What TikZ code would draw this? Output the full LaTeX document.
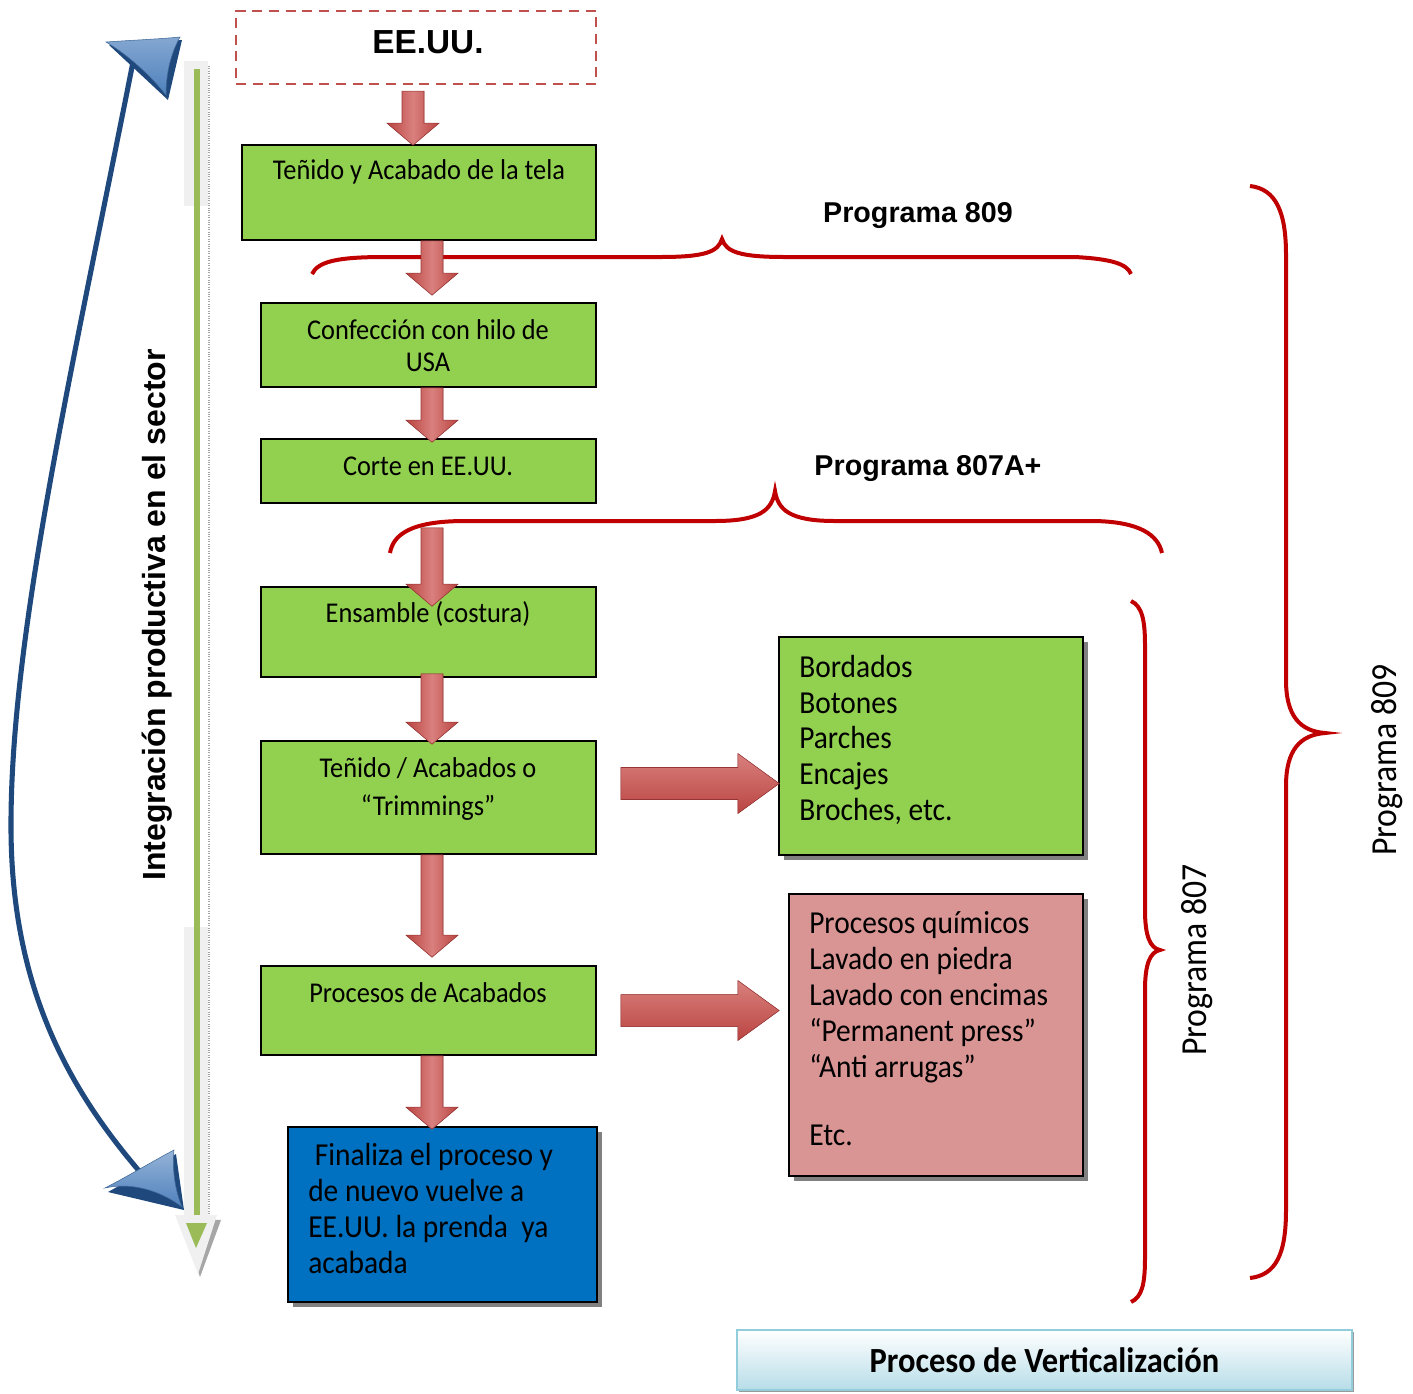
\documentclass[tikz,border=0pt]{standalone}
\usepackage{fontspec}
\setmainfont{Liberation Sans}
\newfontfamily\nar[FakeStretch=0.92]{Carlito}
\usetikzlibrary{calc,fit,shadows}
\definecolor{gfill}{HTML}{92D050}
\definecolor{bfill}{HTML}{0070C0}
\definecolor{pfill}{HTML}{D99594}
\definecolor{rdark}{HTML}{BA4441}
\definecolor{rlight}{HTML}{D9807E}
\definecolor{rshadowc}{HTML}{7F2E2C}
\definecolor{bracec}{HTML}{C00000}
\definecolor{dashc}{HTML}{C0504D}
\definecolor{navy}{HTML}{1F497D}
\definecolor{bhead}{HTML}{4F81BD}
\definecolor{lgreen}{HTML}{9BBB59}
\definecolor{lblue}{HTML}{B7DDE8}
\definecolor{lbord}{HTML}{92CDDC}
\newcommand\dnshape{({\x1-8.25pt},\y1) -- ({\x1+8.25pt},\y1) -- ({\x1+8.25pt},{\y2+16.5pt}) -- ({\x1+19.5pt},{\y2+16.5pt}) -- (\x1,\y2) -- ({\x1-19.5pt},{\y2+16.5pt}) -- ({\x1-8.25pt},{\y2+16.5pt}) -- cycle}
\newcommand\rtshape{(\x1,{\y1+12pt}) -- ({\x2-31pt},{\y1+12pt}) -- ({\x2-31pt},{\y1+22.5pt}) -- (\x2,\y1) -- ({\x2-31pt},{\y1-22.5pt}) -- ({\x2-31pt},{\y1-12pt}) -- (\x1,{\y1-12pt}) -- cycle}
\newcommand\DnArrow[2]{%
  \path #1 coordinate (da) #2 coordinate (db);
  \begin{scope}[shift={(2,2)}]
    \fill[rshadowc] let \p1=(da), \p2=(db) in \dnshape;
  \end{scope}
  \shadedraw[arrshade] let \p1=(da), \p2=(db) in \dnshape;
}
\newcommand\RtArrow[2]{%
  \path #1 coordinate (ra) #2 coordinate (rb);
  \begin{scope}[shift={(3,3)}]
    \fill[rshadowc] let \p1=(ra), \p2=(rb) in \rtshape;
  \end{scope}
  \shadedraw[rtshade] let \p1=(ra), \p2=(rb) in \rtshape;
}
\begin{document}
\begin{tikzpicture}[x=0.75pt,y=-0.75pt,
  gbox/.style={draw=black, line width=1.2pt, fill=gfill, inner sep=0pt},
  shadowed/.style={drop shadow={shadow xshift=3.5pt, shadow yshift=-3.5pt, fill=black!50, opacity=1}},
  btxt/.style={font=\nar\fontsize{21.5}{24}\selectfont, inner sep=0pt, align=center},
  rtxt/.style={font=\nar\fontsize{24}{27}\selectfont, inner sep=0pt, align=left},
  lbl/.style={font=\bfseries\fontsize{21.5}{24}\selectfont, inner sep=0pt},
  vlbl/.style={font=\nar\fontsize{27.5}{30}\selectfont, inner sep=0pt, rotate=90},
  bracestyle/.style={draw=bracec, line width=3pt},
  arrshade/.style={left color=rdark, right color=rdark, middle color=rlight, draw=rdark!80!black, line width=0.4pt},
  rtshade/.style={top color=rlight, bottom color=rdark, draw=rdark!80!black, line width=0.4pt}
]
\useasboundingbox (0,0) rectangle (1413,1393);

% ---------- left side: green vertical arrow ----------
\fill[black!6] (184,61) rectangle (208,206);
\fill[black!6] (184,927) rectangle (208,1216);
\draw[black!35, densely dotted, line width=0.8pt] (209,66) -- (209,1225);
\fill[lgreen] (194,69) rectangle (200,1224);
\fill[black!35] (180,1218) -- (221,1220) -- (200,1277) -- cycle;
\fill[black!6] (175,1215) -- (217,1215) -- (198,1274) -- cycle;
\fill[lgreen] (186,1223) -- (207,1223) -- (196,1248) -- cycle;

% ---------- blue curved double arrow ----------
\draw[navy, line width=3.8pt] (133,62) .. controls (70,380) and (10,640) .. (11,830) .. controls (12,990) and (70,1090) .. (140,1172);
\fill[navy] (109,45) -- (182,40) -- (168,100) -- cycle;
\shade[top color=bhead!70!white, bottom color=bhead, draw=bhead!80!black, line width=0.4pt] (106,42) .. controls (135,40) and (160,39) .. (180,37) .. controls (170,55) and (166,75) .. (166,95) .. controls (150,75) and (128,55) .. cycle;
\fill[navy] (108,1192) -- (176,1154) -- (184,1210) -- cycle;
\shade[top color=bhead!60!white, bottom color=bhead, draw=bhead!80!black, line width=0.4pt] (105,1188) .. controls (130,1175) and (155,1160) .. (174,1150) .. controls (172,1170) and (175,1190) .. (182,1207) .. controls (160,1190) and (130,1182) .. cycle;

\node[font=\bfseries\fontsize{24}{27}\selectfont, rotate=90, inner sep=0pt] (integ) at (157,615) {Integración productiva en el sector};

% ---------- main column boxes ----------
\node[draw=dashc, line width=1.6pt, dash pattern=on 7.5pt off 5pt, fit={(236,11) (596,84)}, inner sep=0pt] (ee) {};
\node[font=\bfseries\fontsize{25}{28}\selectfont, inner sep=0pt] (eet) at (428,42) {EE.UU.};

\node[gbox, fit={(242,145) (596,240)}] (b1) {};
\node[gbox, fit={(261,303) (596,387)}] (b2) {};
\node[gbox, fit={(261,439) (596,503)}] (b3) {};
\node[gbox, fit={(261,587) (596,677)}] (b4) {};
\node[gbox, fit={(261,741) (596,854)}] (b5) {};
\node[gbox, fit={(261,966) (596,1055)}] (b6) {};
\node[gbox, fill=bfill, shadowed, fit={(288,1127) (597,1302)}] (b7) {};

\node[btxt, anchor=base] (t1) at (419,179) {Teñido y Acabado de la tela};
\node[btxt, anchor=base] (t2a) at (428,339) {Confección con hilo de};
\node[btxt, anchor=base] (t2b) at (428,371) {USA};
\node[btxt, anchor=base] (t3) at (428,475) {Corte en EE.UU.};
\node[btxt, anchor=base] (t4) at (428,622) {Ensamble (costura)};
\node[btxt, anchor=base] (t5a) at (428,777) {Teñido / Acabados o};
\node[btxt, anchor=base] (t5b) at (428,815) {“Trimmings”};
\node[btxt, anchor=base] (t6) at (428,1002) {Procesos de Acabados};
\node[rtxt, anchor=base west] (t7a) at (308,1165) {\ Finaliza el proceso y};
\node[rtxt, anchor=base west] (t7b) at (308,1201) {de nuevo vuelve a};
\node[rtxt, anchor=base west] (t7c) at (308,1237) {EE.UU. la prenda \ ya};
\node[rtxt, anchor=base west] (t7d) at (308,1273) {acabada};

% ---------- right boxes ----------
\node[gbox, shadowed, fit={(779,637) (1083,855)}] (r1) {};
\node[gbox, fill=pfill, shadowed, fit={(789,894) (1083,1176)}] (r2) {};
\node[rtxt, anchor=base west] (r1a) at (799,677) {Bordados};
\node[rtxt, anchor=base west] (r1b) at (799,713) {Botones};
\node[rtxt, anchor=base west] (r1c) at (799,748) {Parches};
\node[rtxt, anchor=base west] (r1d) at (799,784) {Encajes};
\node[rtxt, anchor=base west] (r1e) at (799,820) {Broches, etc.};
\node[rtxt, anchor=base west] (r2a) at (809,933) {Procesos químicos};
\node[rtxt, anchor=base west] (r2b) at (809,969) {Lavado en piedra};
\node[rtxt, anchor=base west] (r2c) at (809,1005) {Lavado con encimas};
\node[rtxt, anchor=base west] (r2d) at (809,1041) {“Permanent press”};
\node[rtxt, anchor=base west] (r2e) at (809,1077) {“Anti arrugas”};
\node[rtxt, anchor=base west] (r2f) at (809,1145) {Etc.};

% ---------- braces ----------
\draw[bracestyle] (312,274) .. controls (318,262) and (335,257) .. (385,257) -- (660,257) .. controls (705,257) and (718,252) .. (722,239) .. controls (726,252) and (740,257) .. (785,257) -- (1075,257) .. controls (1112,259) and (1127,264) .. (1131,274);
\node[lbl] (p809h) at (918,216) {Programa 809};

\draw[bracestyle] (390,553) .. controls (393,535) and (410,521) .. (465,521) -- (715,521) .. controls (760,521) and (772,510) .. (775,491) .. controls (778,510) and (790,521) .. (835,521) -- (1095,521) .. controls (1140,522) and (1158,535) .. (1162,553);
\node[lbl] (p807a) at (928,469) {Programa 807A+};

\draw[bracestyle] (1250,186) .. controls (1276,189) and (1286,212) .. (1286,255) -- (1286,680) .. controls (1286,716) and (1300,731) .. (1325,733) .. controls (1300,735) and (1286,750) .. (1286,786) -- (1286,1210) .. controls (1286,1254) and (1276,1275) .. (1250,1278);
\node[vlbl] (p809v) at (1387,760) {Programa 809};

\draw[bracestyle] (1131,601) .. controls (1142,606) and (1145,620) .. (1145,645) -- (1145,910) .. controls (1145,936) and (1150,948) .. (1160,950) .. controls (1150,952) and (1145,964) .. (1145,990) -- (1145,1258) .. controls (1145,1284) and (1142,1297) .. (1131,1302);
\node[vlbl] (p807v) at (1197,960) {Programa 807};

% ---------- connectors (block arrows) ----------
\DnArrow{($(ee.south)+(-3,6)$)}{($(b1.north)+(0,1)$)}
\DnArrow{($(b1.south)+(13,0)$)}{($(b2.north)+(0,-7)$)}
\DnArrow{($(b2.south)+(3.5,0)$)}{($(b3.north)+(0,4)$)}
\DnArrow{($(b3.south)+(3.5,24)$)}{($(b4.north)+(0,20)$)}
\DnArrow{($(b4.south)+(3.5,-4)$)}{($(b5.north)+(0,4)$)}
\DnArrow{($(b5.south)+(3.5,0)$)}{($(b6.north)+(0,-8)$)}
\DnArrow{($(b6.south)+(3.5,0)$)}{($(b7.north)+(0,3)$)}
\RtArrow{($(b5.east)+(24,-14)$)}{($(r1.west)+(1,0)$)}
\RtArrow{($(b6.east)+(24,0)$)}{($(r2.west)+(-9,0)$)}

% ---------- bottom title ----------
\node[fit={(737,1330) (1352,1390)}, inner sep=0pt, draw=lbord, line width=1.5pt, top color=white, bottom color=lblue,
  drop shadow={shadow xshift=1.5pt, shadow yshift=-1.5pt, fill=black!40, opacity=1}] (pv) {};
\node[font=\nar\bfseries\fontsize{26.5}{29}\selectfont, inner sep=0pt] (pvt) at (pv.center) {Proceso de Verticalización};
\end{tikzpicture}
\end{document}
